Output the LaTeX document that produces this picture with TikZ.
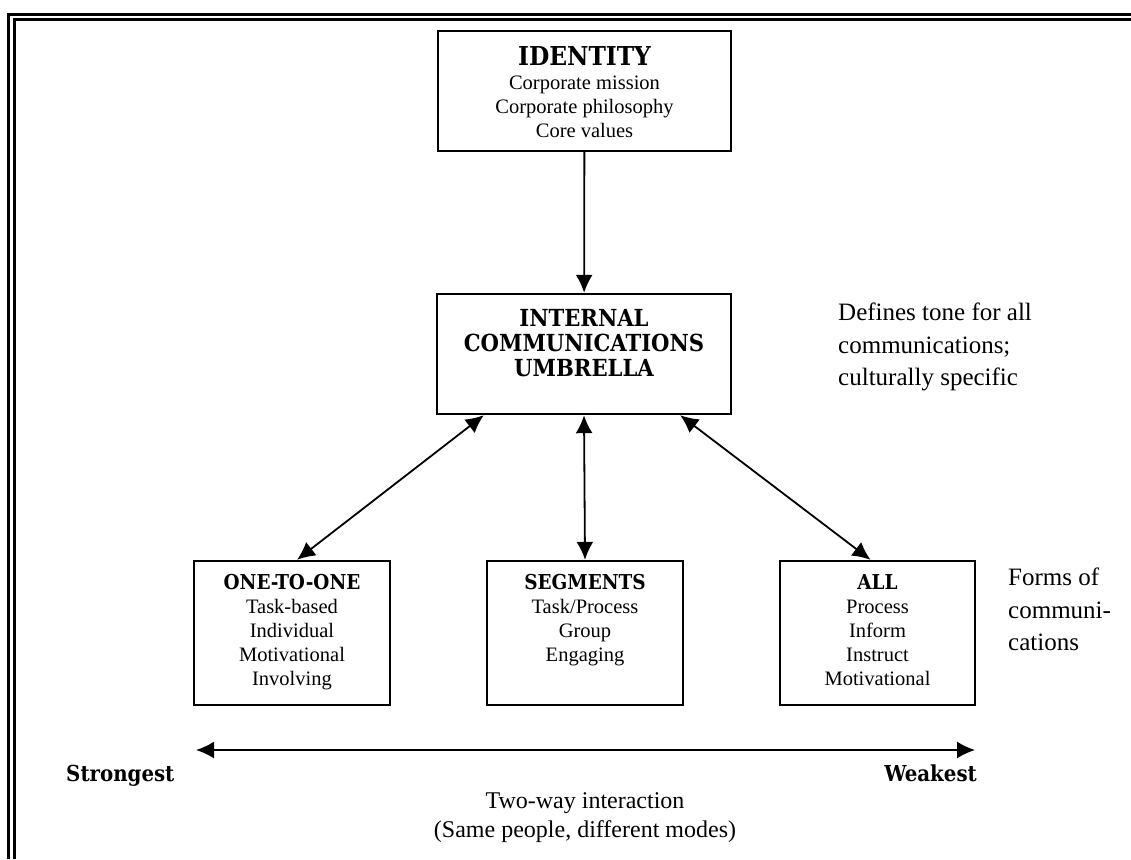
\documentclass[tikz,border=0pt]{standalone}
\usepackage{fontspec}
\setmainfont{Liberation Serif}
\newfontfamily\headfont{DejaVu Serif Condensed}
\usetikzlibrary{arrows.meta,calc}

\begin{document}
\begin{tikzpicture}[x=1pt,y=-1pt,
  box/.style={draw=black, line width=2.4pt, rectangle, inner sep=0pt},
  tip/.tip={Latex[length=18pt,width=17pt]},
  link/.style={line width=1.8pt, tip-tip},
  oneway/.style={line width=1.8pt, -tip},
  boxtext/.style={align=center, inner sep=0pt, anchor=north},
  side/.style={align=left, inner sep=0pt, anchor=north west,
    font=\fontsize{25}{32.5}\selectfont},
  rank/.style={inner sep=0pt, font=\headfont\bfseries\fontsize{22}{26}\selectfont},
]
\useasboundingbox (0,0) rectangle (1131,859);

% double rule along the top and left edges
\draw[line width=2.8pt] (8.8,859) -- (8.8,14.2) -- (1131,14.2);
\draw[line width=2.4pt] (14.6,859) -- (14.6,19.6) -- (1131,19.6);

% boxes
\node[box, minimum width=293pt, minimum height=120pt] (identity) at (584.5,91) {};
\node[box, minimum width=294pt, minimum height=120pt] (internal) at (584,354) {};
\node[box, minimum width=196pt, minimum height=144pt] (onetoone) at (292,633) {};
\node[box, minimum width=196pt, minimum height=144pt] (segments) at (585,633) {};
\node[box, minimum width=195pt, minimum height=144pt] (all) at (877.5,633) {};

% box texts
\node[boxtext, font=\fontsize{20.5}{24}\selectfont] (identity-text) at (584.5,46)
  {{\headfont\bfseries\fontsize{26}{24}\selectfont IDENTITY}\\
   Corporate mission\\ Corporate philosophy\\ Core values};
\node[boxtext, font=\headfont\bfseries\fontsize{23.5}{25}\selectfont] (internal-text) at (584,309)
  {INTERNAL\\ COMMUNICATIONS\\ UMBRELLA};
\node[boxtext, font=\fontsize{20.5}{24}\selectfont] (onetoone-text) at (292,574)
  {{\headfont\bfseries\fontsize{20.5}{24}\selectfont ONE-TO-ONE}\\
   Task-based\\ Individual\\ Motivational\\ Involving};
\node[boxtext, font=\fontsize{20.5}{24}\selectfont] (segments-text) at (585,574)
  {{\headfont\bfseries\fontsize{20.5}{24}\selectfont SEGMENTS}\\
   Task/Process\\ Group\\ Engaging};
\node[boxtext, font=\fontsize{20.5}{24}\selectfont] (all-text) at (877.5,574)
  {{\headfont\bfseries\fontsize{20.5}{24}\selectfont ALL}\\
   Process\\ Inform\\ Instruct\\ Motivational};

% side notes
\node[side] (tone) at (838,303) {Defines tone for all\\ communications;\\ culturally specific};
\node[side] (forms) at (1008,568) {Forms of\\ communi-\\ cations};

% connectors
\draw[oneway] (identity) -- (internal);
\draw[link] ($(internal.south west)+(48,0)$) -- ($(onetoone.north)+(5,0)$);
\draw[link] (internal.south) -- (segments.north);
\draw[link] ($(internal.south east)+(-52,0)$) -- ($(all.north)+(-7,0)$);

% interaction scale
\coordinate (strongend) at (196,750);
\coordinate (weakend) at (975,750);
\draw[link] (strongend) -- (weakend);
\node[rank, anchor=base west] (strongest) at (66,781) {Strongest};
\node[rank, anchor=base east] (weakest) at (977,781) {Weakest};
\node[align=center, inner sep=0pt, anchor=base, font=\fontsize{24}{29}\selectfont] (interaction) at (585,837)
  {Two-way interaction\\ (Same people, different modes)};
\end{tikzpicture}
\end{document}
